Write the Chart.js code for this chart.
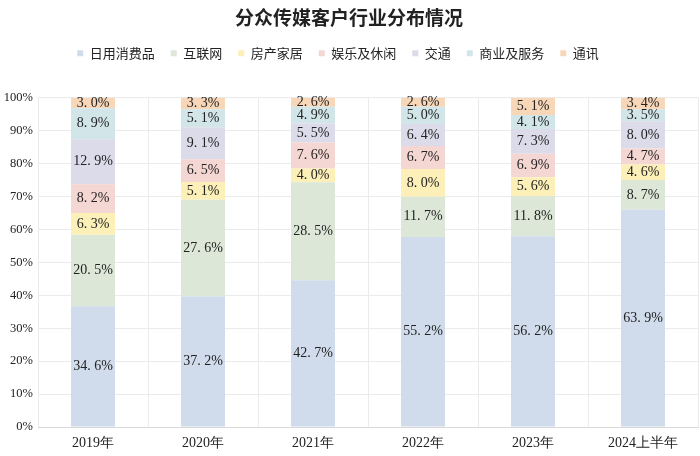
<!DOCTYPE html>
<html>
<head>
<meta charset="utf-8">
<script src="https://cdn.jsdelivr.net/npm/chart.js@4/dist/chart.umd.min.js"></script>
<style>
html,body{margin:0;padding:0;background:#fff;}
#wrap{width:700px;height:456px;}
</style>
</head>
<body>
<div id="wrap"><canvas id="c" width="700" height="456"></canvas></div>
<script>
const categories = ['2019年','2020年','2021年','2022年','2023年','2024上半年'];
const seriesNames = ['日用消费品','互联网','房产家居','娱乐及休闲','交通','商业及服务','通讯'];
const dailyGoods   = [34.6, 37.2, 42.7, 55.2, 56.2, 63.9];
const internet     = [20.5, 27.6, 28.5, 11.7, 11.8, 8.7];
const realEstate   = [6.3, 5.1, 4.0, 8.0, 5.6, 4.6];
const entertainment= [8.2, 6.5, 7.6, 6.7, 6.9, 4.7];
const transport    = [12.9, 9.1, 5.5, 6.4, 7.3, 8.0];
const business     = [8.9, 5.1, 4.9, 5.0, 4.1, 3.5];
const telecom      = [3.0, 3.3, 2.6, 2.6, 5.1, 3.4];
const yTicks = [0,10,20,30,40,50,60,70,80,90,100];

const raw = [dailyGoods, internet, realEstate, entertainment, transport, business, telecom];
const colors = ['#d0dcec','#dce7d8','#fcf0b8','#f4d6d2','#dcdbea','#d2e6ea','#f8d7b8'];
const totals = categories.map((_, i) => raw.reduce((s, arr) => s + arr[i], 0));

const datasets = raw.map((arr, k) => ({
  label: seriesNames[k],
  data: arr.map((v, i) => v / totals[i] * 100),
  rawValues: arr,
  backgroundColor: colors[k],
  borderWidth: 0,
  barPercentage: 0.4,
  categoryPercentage: 1.0
}));

const labelPlugin = {
  id: 'barLabels',
  afterDatasetsDraw(chart) {
    const ctx = chart.ctx;
    ctx.save();
    ctx.font = '14px "Liberation Serif", serif';
    ctx.fillStyle = '#222';
    ctx.textAlign = 'center';
    ctx.textBaseline = 'middle';
    chart.data.datasets.forEach((ds, di) => {
      const meta = chart.getDatasetMeta(di);
      meta.data.forEach((bar, i) => {
        const v = ds.rawValues[i];
        const yc = (bar.y + bar.base) / 2;
        const s = v.toFixed(1).replace('.', '. ') + '%';
        ctx.fillText(s, bar.x, yc);
      });
    });
    ctx.restore();
  }
};

const legendSpace = {
  id: 'legendSpace',
  beforeInit(chart) {
    const orig = chart.legend.fit;
    chart.legend.fit = function() {
      orig.bind(chart.legend)();
      this.height += 28;
    };
  },
  afterLayout(chart) {
    chart.legend.left -= 11;
    chart.legend.right -= 11;
  }
};

new Chart(document.getElementById('c'), {
  type: 'bar',
  data: { labels: categories, datasets },
  options: {
    responsive: false,
    animation: false,
    layout: { padding: { left: 0, right: 2, top: 0, bottom: 0 } },
    plugins: {
      title: {
        display: true,
        text: '分众传媒客户行业分布情况',
        font: { family: '"Noto Sans CJK SC", sans-serif', size: 19, weight: 'bold' },
        color: '#222',
        padding: { top: 6, bottom: 2 }
      },
      legend: {
        display: true,
        position: 'top',
        labels: {
          boxWidth: 6, boxHeight: 6,
          padding: 16,
          color: '#222',
          font: { family: '"Noto Sans CJK SC", serif', size: 13 }
        }
      },
      tooltip: { enabled: false }
    },
    scales: {
      x: {
        stacked: true,
        offset: true,
        grid: { color: '#ebebeb', offset: true, drawTicks: false },
        border: { color: '#d9d9d9' },
        ticks: { color: '#222', padding: 8, font: { family: '"Liberation Serif", serif', size: 14 } },
        afterFit(s) { s.height = 29; }
      },
      y: {
        stacked: true,
        min: 0, max: 100,
        afterBuildTicks(s) { s.ticks = yTicks.map(v => ({ value: v })); },
        grid: { color: '#ebebeb', drawTicks: false },
        border: { display: false },
        ticks: { color: '#222', padding: 5, callback: v => v + '%', font: { family: '"Liberation Serif", serif', size: 12.5 } },
        afterFit(s) { s.width = 38; }
      }
    }
  },
  plugins: [labelPlugin, legendSpace]
});
</script>
</body>
</html>
